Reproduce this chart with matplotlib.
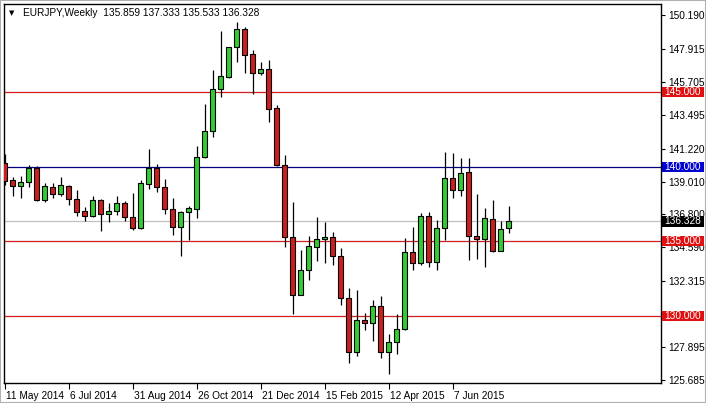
import numpy as np
import pandas as pd
import matplotlib
matplotlib.use("Agg")
import matplotlib.pyplot as plt
from matplotlib.patches import Rectangle
from matplotlib.transforms import blended_transform_factory

# weekly EURJPY candles, starting week of 11 May 2014
start_date = "2014-05-11"
opens = [140.27, 139.08, 138.70, 138.99, 139.94, 137.78, 138.66, 138.16, 138.73, 137.85,
         137.00, 136.68, 137.78, 136.84, 137.02, 137.58, 136.64, 135.90, 138.86, 139.91,
         138.66, 137.18, 135.97, 136.98, 137.18, 140.65, 142.42, 145.25, 146.03, 148.01,
         149.22, 147.56, 146.26, 146.59, 143.92, 140.14, 135.30, 131.37, 133.10, 134.62,
         135.16, 135.30, 134.02, 131.19, 127.60, 129.73, 129.51, 130.68, 127.56, 128.23,
         129.11, 134.29, 133.52, 136.71, 133.61, 135.90, 139.26, 138.43, 139.67, 135.36,
         135.16, 136.51, 134.37, 135.859]
highs = [140.88, 139.30, 139.37, 140.09, 140.04, 138.88, 138.88, 139.28, 138.75, 138.41,
         137.33, 138.03, 137.85, 137.58, 138.03, 137.69, 138.25, 139.10, 141.17, 140.21,
         139.15, 137.92, 137.05, 137.35, 141.39, 144.19, 146.48, 149.10, 148.05, 149.69,
         149.35, 147.82, 147.06, 147.15, 144.13, 140.81, 137.62, 134.39, 135.34, 136.64,
         136.28, 135.61, 134.58, 131.87, 131.75, 130.18, 131.08, 131.30, 128.79, 130.14,
         135.23, 135.97, 136.91, 136.95, 136.46, 141.01, 140.94, 140.61, 140.61, 138.14,
         137.25, 137.80, 136.39, 137.333]
lows = [138.75, 138.07, 137.92, 138.63, 137.72, 137.62, 137.89, 138.03, 137.42, 136.68,
        136.35, 136.64, 135.67, 136.32, 136.73, 136.35, 135.74, 135.83, 138.48, 138.32,
        136.84, 135.45, 134.04, 135.11, 136.53, 140.61, 141.99, 144.71, 145.95, 147.00,
        146.32, 144.91, 146.16, 143.00, 140.04, 134.60, 130.14, 131.37, 132.42, 133.65,
        133.55, 133.41, 130.72, 126.86, 127.27, 129.02, 128.32, 127.20, 126.08, 127.43,
        129.06, 133.05, 133.43, 133.28, 133.05, 135.07, 137.92, 138.07, 133.72, 133.82,
        133.28, 134.29, 134.33, 135.533]
closes = [139.04, 138.70, 139.01, 139.94, 137.76, 138.70, 138.19, 138.75, 137.85, 136.98,
          136.68, 137.78, 136.82, 137.06, 137.58, 136.64, 135.90, 138.93, 139.91, 138.66,
          137.18, 135.97, 136.98, 137.20, 140.68, 142.42, 145.25, 146.12, 148.01, 149.22,
          147.51, 146.26, 146.59, 143.90, 140.11, 135.27, 131.37, 133.10, 134.69, 135.16,
          135.30, 134.02, 131.19, 127.60, 129.73, 129.49, 130.68, 127.60, 128.23, 129.11,
          134.29, 133.55, 136.71, 133.61, 135.90, 139.26, 138.43, 139.60, 135.34, 135.16,
          136.57, 134.37, 135.83, 136.328]

price_ticks = [150.190, 147.915, 145.705, 143.495, 141.220, 139.010, 136.800,
               134.590, 132.315, 127.895, 125.685]
red_levels = [145.0, 135.0, 130.0]
blue_level = 140.0
last_price = 136.328
label_every = 8

dates = pd.date_range(start_date, periods=len(opens), freq="W-SUN")
x = np.arange(len(opens))
o = np.array(opens)
h = np.array(highs)
l = np.array(lows)
c = np.array(closes)

up_col = "#32cd32"
dn_col = "#cc1f1f"
line_red = "#d21e1e"

plt.rcParams["font.family"] = ["Liberation Sans", "DejaVu Sans"]
fig = plt.figure(figsize=(7.06, 4.03), dpi=100)
W, H = 706, 403
ax = fig.add_axes([3.5 / W, 1 - 383 / H, (661 - 3.5) / W, (383 - 4) / H])

ax.set_xlim(-0.15, 82.0)
ax.set_ylim(125.49, 150.92)

# levels
for lv in red_levels:
    ax.axhline(lv, color=line_red, lw=0.9, zorder=1)
ax.axhline(blue_level, color="#000080", lw=0.9, zorder=1)
ax.axhline(last_price, color="#c0c0c0", lw=0.9, zorder=1)

# candles
cols = np.where(c >= o, up_col, dn_col)
ax.vlines(x, l, h, color="black", lw=0.9, zorder=2)
body_lo = np.minimum(o, c)
body_h = np.maximum(np.abs(c - o), 0.12)
ax.bar(x, body_h, bottom=body_lo, width=0.64, color=cols,
       edgecolor="black", linewidth=0.8, zorder=3)

# right price axis
ax.yaxis.tick_right()
ax.set_yticks(price_ticks)
ax.set_yticklabels([f"{v:.3f}" for v in price_ticks])
ax.tick_params(axis="y", direction="out", length=3, width=0.8, pad=2,
               labelsize=7.3, colors="black")

# date axis
tick_idx = x[::label_every]
ax.set_xticks(tick_idx)
ax.set_xticklabels([])
ax.tick_params(axis="x", direction="out", length=4, width=0.8)
for i in tick_idx:
    d = dates[i]
    ax.text(i + 0.12, -0.022, f"{d.day} {d.strftime('%b %Y')}",
            transform=ax.get_xaxis_transform(), ha="left", va="top", fontsize=7.3)

for s in ax.spines.values():
    s.set_color("black")
    s.set_linewidth(1.0)

# boxed level labels on the price axis
trans = blended_transform_factory(ax.transAxes, ax.transData)
box_x0 = (662 - 3.5) / 657.5
box_w = 42 / 657.5
box_h = 0.68

def price_box(val, fc):
    ax.add_patch(Rectangle((box_x0, val - box_h / 2), box_w, box_h, transform=trans,
                           fc=fc, ec="none", zorder=6, clip_on=False))
    ax.text(box_x0 + box_w / 2, val, f"{val:.3f}", transform=trans,
            ha="center", va="center", fontsize=7.3, color="white", zorder=7,
            clip_on=False)

for lv in red_levels:
    price_box(lv, "#e01010")
price_box(blue_level, "#0000d0")
price_box(last_price, "black")

# header
ax.text(0.008, 0.985, "\u25bc", transform=ax.transAxes, ha="left", va="top",
        fontsize=5, family="DejaVu Sans")
ax.text(0.03, 0.99, f"EURJPY,Weekly  {opens[-1]:.3f} {highs[-1]:.3f} {lows[-1]:.3f} {closes[-1]:.3f}",
        transform=ax.transAxes, ha="left", va="top", fontsize=7.3)

fig.patches.append(Rectangle((0, 0), 1, 1, transform=fig.transFigure, fill=False,
                             ec="#b0b0b0", lw=1.5))

fig.savefig("out.png", dpi=100)
